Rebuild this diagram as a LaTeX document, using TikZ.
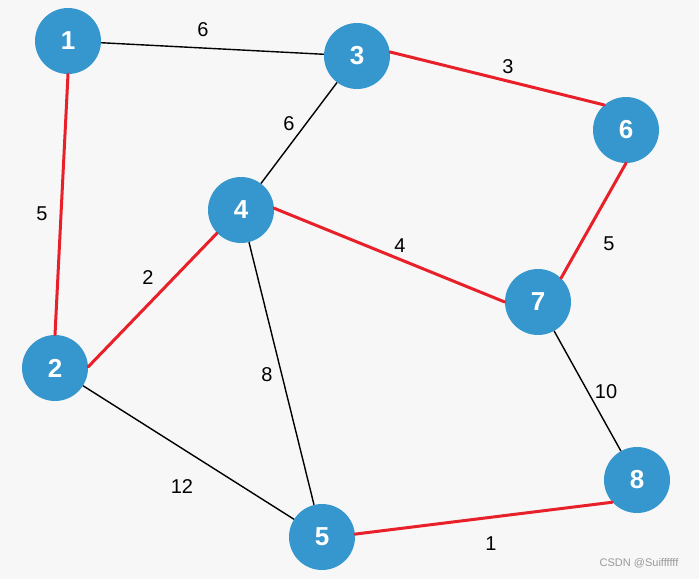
\documentclass[tikz,border=0pt]{standalone}
\usepackage{fontspec}
\setmainfont{Liberation Sans}
\definecolor{nodeblue}{HTML}{3597CD}
\definecolor{edgered}{HTML}{E8202A}
\definecolor{bgc}{HTML}{F7F7F7}
\begin{document}
\begin{tikzpicture}[x=1pt,y=-1pt,
  vert/.style={circle,fill=nodeblue,minimum size=66pt,inner sep=0pt,text=white,font=\fontsize{26}{26}\selectfont\bfseries},
  blk/.style={draw=black,line width=1.4pt},
  red/.style={draw=edgered,line width=3pt,line cap=round},
  lbl/.style={font=\fontsize{20}{20}\selectfont,text=black,inner sep=0pt}]
\fill[bgc] (0,0) rectangle (699,579);
\useasboundingbox (0,0) rectangle (699,579);
\node[vert] (n1) at (68,41) {1};
\node[vert] (n3) at (357,56) {3};
\node[vert] (n6) at (626,130) {6};
\node[vert] (n4) at (241,210) {4};
\node[vert] (n7) at (538,302) {7};
\node[vert] (n2) at (55,368) {2};
\node[vert] (n8) at (637,480) {8};
\node[vert] (n5) at (322,537) {5};
\path[blk] (n1) -- (n3);
\path[blk] (n3) -- (n4);
\path[blk] (n4) -- (n5);
\path[blk] (n2) -- (n5);
\path[blk] (n7) -- (n8);
\path[red] (n1.south) -- (n2.north);
\path[red] (n3.7) -- (n6.131);
\path[red] (n4.224) -- (n2.2);
\path[red] (n4.3) -- (n7.west);
\path[red] (n6.south) -- (n7.46);
\path[red] (n5.5) -- (n8.222);
\node[lbl] (l13) at (203,30) {6};
\node[lbl] (l36) at (508,67) {3};
\node[lbl] (l34) at (289,124) {6};
\node[lbl] (l12) at (42,214) {5};
\node[lbl] (l24) at (148,278) {2};
\node[lbl] (l47) at (400,246) {4};
\node[lbl] (l67) at (609,244) {5};
\node[lbl] (l45) at (267,375) {8};
\node[lbl] (l25) at (182,487) {12};
\node[lbl] (l78) at (606,392) {10};
\node[lbl] (l58) at (491,544) {1};
\node[font=\fontsize{11}{11}\selectfont,text=gray!80,inner sep=0pt] (wm) at (639,563) {CSDN @Suiffffff};
\end{tikzpicture}
\end{document}
